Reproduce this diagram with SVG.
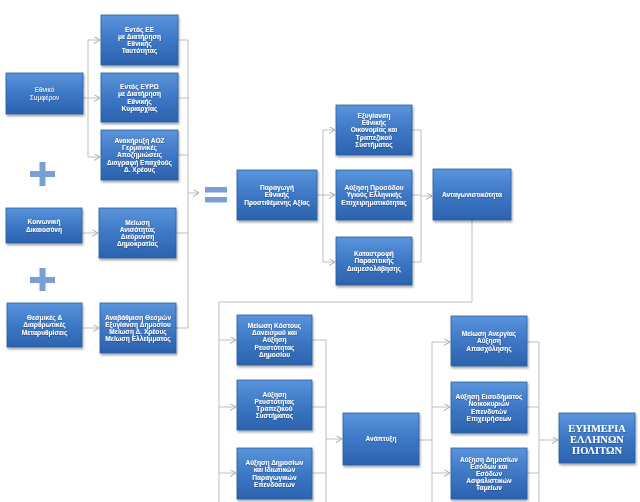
<svg xmlns="http://www.w3.org/2000/svg" width="640" height="502" viewBox="0 0 640 502">
<defs>
<linearGradient id="bg" x1="0" y1="0" x2="0" y2="1">
<stop offset="0" stop-color="#5a94db"/>
<stop offset="0.5" stop-color="#3d78c6"/>
<stop offset="1" stop-color="#2c62ad"/>
</linearGradient>
<filter id="sh" x="-10%" y="-10%" width="125%" height="130%">
<feDropShadow dx="1" dy="2" stdDeviation="1.2" flood-color="#000" flood-opacity="0.35"/>
</filter>
<filter id="tsh" x="-5%" y="-20%" width="110%" height="140%">
<feDropShadow dx="0.4" dy="0.6" stdDeviation="0.3" flood-color="#0a2550" flood-opacity="0.6"/>
</filter>
<marker id="ar" markerWidth="8" markerHeight="8" refX="6" refY="3.5" orient="auto" markerUnits="userSpaceOnUse">
<path d="M0,0 L6,3.5 L0,7" fill="none" stroke="#a8a8a8" stroke-width="1"/>
</marker>
<style>
.box{fill:url(#bg);stroke:#2b5c9e;stroke-width:0.8;filter:url(#sh)}
.t{font-family:"Liberation Sans",Arial,sans-serif;font-size:6.6px;font-weight:bold;fill:#fff;text-anchor:middle;filter:url(#tsh)}
.tn{font-weight:normal}
.big{font-family:"Liberation Serif","Times New Roman",serif;font-size:10.5px;font-weight:bold;fill:#fff;text-anchor:middle;filter:url(#tsh)}
.c{fill:none;stroke:#bfbfbf;stroke-width:1}
.a{fill:none;stroke:#bfbfbf;stroke-width:1;marker-end:url(#ar)}
.sym{fill:#7b9fd4}
</style>
</defs>
<rect width="640" height="502" fill="#fff"/>

<g id="connectors">
<path class="c" d="M83,98 H88 M88,40 V157"/>
<path class="a" d="M88,40 H100"/>
<path class="a" d="M88,98 H100"/>
<path class="a" d="M88,157 H100"/>
<path class="a" d="M82,233 H98"/>
<path class="a" d="M82,328 H99"/>
<path class="c" d="M178,40 H188 M178,98 H188 M178,155 H188 M176,233 H188 M176,328 H188 M188,40 V328"/>
<path class="a" d="M188,193 H199"/>
<path class="c" d="M317,195 H323 M323,130 V262"/>
<path class="a" d="M323,130 H335"/>
<path class="a" d="M323,195 H335"/>
<path class="a" d="M323,262 H335"/>
<path class="c" d="M412,130 H421 M412,195 H421 M412,262 H421 M421,130 V262"/>
<path class="a" d="M421,196 H432"/>
<path class="c" d="M472,220 V302 H219 V502"/>
<path class="a" d="M219,340 H236"/>
<path class="a" d="M219,407 H236"/>
<path class="a" d="M219,473 H236"/>
<path class="c" d="M312,340 H326 M312,407 H326 M312,473 H326 M326,340 V502"/>
<path class="a" d="M326,439 H342"/>
<path class="c" d="M419,440 H432 M432,342 V502"/>
<path class="a" d="M432,342 H450"/>
<path class="a" d="M432,407 H450"/>
<path class="a" d="M432,473 H450"/>
<path class="c" d="M527,342 H539 M527,407 H539 M527,473 H539 M539,342 V502"/>
<path class="a" d="M539,440 H558"/>
</g>

<g id="symbols">
<rect class="sym" x="30" y="171" width="25" height="6"/>
<rect class="sym" x="39.5" y="162" width="6" height="24"/>
<rect class="sym" x="30" y="277" width="25" height="6"/>
<rect class="sym" x="39.5" y="268" width="6" height="23"/>
<rect class="sym" x="205" y="187" width="22" height="5.5"/>
<rect class="sym" x="205" y="197" width="22" height="5.5"/>
</g>

<g id="n_ethniko"><rect class="box" x="6" y="73" width="77" height="41"/>
<text class="t tn" x="44.5" y="92.3">Εθνικό</text><text class="t tn" x="44.5" y="99.5">Συμφέρον</text></g>

<g id="n_entos_ee"><rect class="box" x="101" y="15" width="77" height="50"/>
<text class="t" x="139.5" y="31.6">Εντός ΕΕ</text><text class="t" x="139.5" y="38.8">με Διατήρηση</text><text class="t" x="139.5" y="46">Εθνικής</text><text class="t" x="139.5" y="53.2">Ταυτότητας</text></g>

<g id="n_entos_euro"><rect class="box" x="101" y="73" width="77" height="49"/>
<text class="t" x="139.5" y="89.1">Εντός ΕΥΡΩ</text><text class="t" x="139.5" y="96.3">με Διατήρηση</text><text class="t" x="139.5" y="103.5">Εθνικής</text><text class="t" x="139.5" y="110.7">Κυριαρχίας</text></g>

<g id="n_aoz"><rect class="box" x="101" y="130" width="77" height="50"/>
<text class="t" x="139.5" y="143">Ανακήρυξη ΑΟΖ</text><text class="t" x="139.5" y="150.2">Γερμανικές</text><text class="t" x="139.5" y="157.4">Αποζημιώσεις</text><text class="t" x="139.5" y="164.6">Διαγραφή Επαχθούς</text><text class="t" x="139.5" y="171.8">Δ. Χρέους</text></g>

<g id="n_koin"><rect class="box" x="6" y="208" width="76" height="35"/>
<text class="t" x="44" y="224.3">Κοινωνική</text><text class="t" x="44" y="231.5">Δικαιοσύνη</text></g>

<g id="n_meiosi_anis"><rect class="box" x="99" y="208" width="77" height="50"/>
<text class="t" x="137.5" y="224.6">Μείωση</text><text class="t" x="137.5" y="231.8">Ανισότητας</text><text class="t" x="137.5" y="239">Διεύρυνση</text><text class="t" x="137.5" y="246.2">Δημοκρατίας</text></g>

<g id="n_thesm"><rect class="box" x="7" y="303" width="75" height="44"/>
<text class="t" x="44.5" y="320.2">Θεσμικές &amp;</text><text class="t" x="44.5" y="327.4">Διαρθρωτικές</text><text class="t" x="44.5" y="334.6">Μεταρυθμίσεις</text></g>

<g id="n_anavath"><rect class="box" x="100" y="303" width="76" height="50"/>
<text class="t" x="138" y="319.6">Αναβάθμιση Θεσμών</text><text class="t" x="138" y="326.8">Εξυγίανση Δημοσίου</text><text class="t" x="138" y="334">Μείωση Δ. Χρέους</text><text class="t" x="138" y="341.2">Μείωση Ελλείμματος</text></g>

<g id="n_paragogi"><rect class="box" x="237" y="170" width="80" height="50"/>
<text class="t" x="277" y="190.2">Παραγωγή</text><text class="t" x="277" y="197.4">Εθνικής</text><text class="t" x="277" y="204.6">Προστιθέμενης Αξίας</text></g>

<g id="n_exygiansi"><rect class="box" x="336" y="105" width="76" height="50"/>
<text class="t" x="374" y="118">Εξυγίανση</text><text class="t" x="374" y="125.2">Εθνικής</text><text class="t" x="374" y="132.4">Οικονομίας και</text><text class="t" x="374" y="139.6">Τραπεζικού</text><text class="t" x="374" y="146.8">Συστήματος</text></g>

<g id="n_afxisi_pros"><rect class="box" x="336" y="170" width="76" height="50"/>
<text class="t" x="374" y="190.2">Αύξηση Προσόδου</text><text class="t" x="374" y="197.4">Υγιούς Ελληνικής</text><text class="t" x="374" y="204.6">Επιχειρηματικότητας</text></g>

<g id="n_katastrofi"><rect class="box" x="336" y="237" width="76" height="48"/>
<text class="t" x="374" y="256.2">Καταστροφή</text><text class="t" x="374" y="263.4">Παρασιτικής</text><text class="t" x="374" y="270.6">Διαμεσολάβησης</text></g>

<g id="n_antag"><rect class="box" x="433" y="169" width="78" height="51"/>
<text class="t" x="472" y="196.9">Ανταγωνιστικότητα</text></g>

<g id="n_meiosi_kost"><rect class="box" x="237" y="315" width="75" height="50"/>
<text class="t" x="274.5" y="328">Μείωση Κόστους</text><text class="t" x="274.5" y="335.2">Δανεισμού και</text><text class="t" x="274.5" y="342.4">Αύξηση</text><text class="t" x="274.5" y="349.6">Ρευστότητας</text><text class="t" x="274.5" y="356.8">Δημοσίου</text></g>

<g id="n_afx_reust"><rect class="box" x="237" y="380" width="75" height="50"/>
<text class="t" x="274.5" y="396.6">Αύξηση</text><text class="t" x="274.5" y="403.8">Ρευστότητας</text><text class="t" x="274.5" y="411">Τραπεζικού</text><text class="t" x="274.5" y="418.2">Συστήματος</text></g>

<g id="n_afx_dim_epend"><rect class="box" x="237" y="448" width="75" height="51"/>
<text class="t" x="274.5" y="465.1">Αύξηση Δημοσίων</text><text class="t" x="274.5" y="472.3">και Ιδιωτικών</text><text class="t" x="274.5" y="479.5">Παραγωγικών</text><text class="t" x="274.5" y="486.7">Επενδύσεων</text></g>

<g id="n_anaptyxi"><rect class="box" x="343" y="413" width="76" height="52"/>
<text class="t" x="381" y="441.4">Ανάπτυξη</text></g>

<g id="n_anergia"><rect class="box" x="451" y="316" width="76" height="50"/>
<text class="t" x="489" y="336.2">Μείωση Ανεργίας</text><text class="t" x="489" y="343.4">Αύξηση</text><text class="t" x="489" y="350.6">Απασχόλησης</text></g>

<g id="n_eisodima"><rect class="box" x="451" y="382" width="76" height="51"/>
<text class="t" x="489" y="399.1">Αύξηση Εισοδήματος</text><text class="t" x="489" y="406.3">Νοικοκυριών</text><text class="t" x="489" y="413.5">Επενδυτών</text><text class="t" x="489" y="420.7">Επιχειρήσεων</text></g>

<g id="n_esoda"><rect class="box" x="451" y="448" width="76" height="51"/>
<text class="t" x="489" y="461.5">Αύξηση Δημοσίων</text><text class="t" x="489" y="468.7">Εσόδων και</text><text class="t" x="489" y="475.9">Εσόδων</text><text class="t" x="489" y="483.1">Ασφαλιστικών</text><text class="t" x="489" y="490.3">Ταμείων</text></g>

<g id="n_euimeria"><rect class="box" x="559" y="413" width="76" height="50"/>
<text class="big" x="597" y="431.5">ΕΥΗΜΕΡΙΑ</text><text class="big" x="597" y="442.5">ΕΛΛΗΝΩΝ</text><text class="big" x="597" y="453.5">ΠΟΛΙΤΩΝ</text></g>
</svg>
